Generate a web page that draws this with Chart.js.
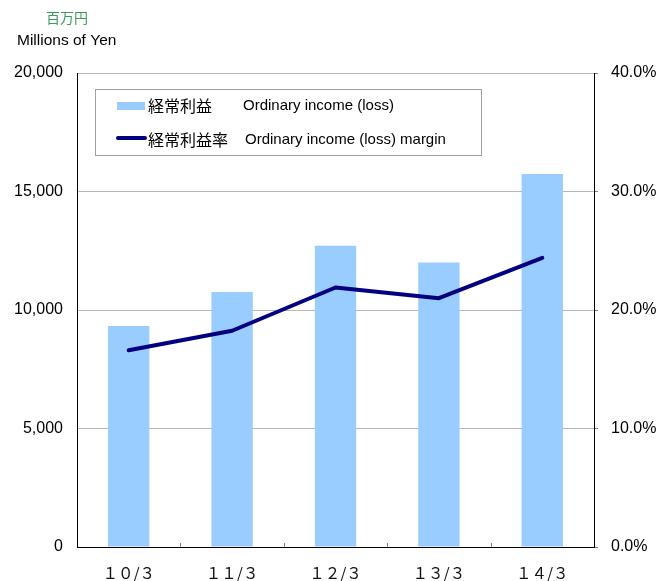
<!DOCTYPE html>
<html>
<head>
<meta charset="utf-8">
<script src="https://cdn.jsdelivr.net/npm/chart.js@4/dist/chart.umd.min.js"></script>
<style>
  html, body { margin: 0; padding: 0; background: #fff; }
  #wrap { width: 660px; height: 581px; }
</style>
</head>
<body>
<div id="wrap"><canvas id="chart" width="660" height="581"></canvas></div>
<script>
// fiscal years (March year-end)
const categories = ['１０/３', '１１/３', '１２/３', '１３/３', '１４/３'];
// ordinary income, millions of yen
const ordinaryIncome = [9330, 10760, 12710, 12000, 15740];
// ordinary income margin, %
const incomeMargin = [16.6, 18.25, 21.9, 21.0, 24.4];
const leftTicks = [0, 5000, 10000, 15000, 20000];
const rightTicks = [0, 10, 20, 30, 40];

const legendNames = [
  ['経常利益', 'Ordinary income (loss)'],
  ['経常利益率', 'Ordinary income (loss) margin']
];

const latin = '"Liberation Sans", Arial, sans-serif';
const cjk = '"Noto Sans CJK JP", sans-serif';

// unit labels, inward category ticks and the boxed legend inside the plot
const decorations = {
  id: 'decorations',
  afterDraw(chart) {
    const ctx = chart.ctx;
    const area = chart.chartArea;
    const xs = chart.scales.x;
    ctx.save();

    // small ticks between categories, pointing up into the plot
    ctx.strokeStyle = '#808080';
    ctx.lineWidth = 1;
    const step = (area.right - area.left) / categories.length;
    for (let i = 1; i < categories.length; i++) {
      const px = Math.round((xs.getPixelForValue(i - 1) + xs.getPixelForValue(i)) / 2) + 0.5;
      ctx.beginPath();
      ctx.moveTo(px, area.bottom);
      ctx.lineTo(px, area.bottom - 4);
      ctx.stroke();
    }

    ctx.textBaseline = 'middle';
    ctx.textAlign = 'left';

    ctx.fillStyle = '#3c9a5f';
    ctx.font = '14px ' + cjk;
    ctx.fillText('百万円', 46, 18);
    ctx.fillStyle = '#000';
    ctx.font = '15.5px ' + latin;
    ctx.fillText('Millions of Yen', 17, 41);

    // legend box
    ctx.fillStyle = '#fff';
    ctx.fillRect(95.5, 89.5, 386, 66);
    ctx.strokeStyle = '#a0a0a0';
    ctx.lineWidth = 1;
    ctx.strokeRect(95.5, 89.5, 386, 66);

    const ds = chart.data.datasets;
    const rows = [106, 140];
    // bar swatch
    ctx.fillStyle = ds[0].backgroundColor;
    ctx.fillRect(117, 102, 28, 8);
    // line swatch
    ctx.strokeStyle = ds[1].borderColor;
    ctx.lineWidth = 4;
    ctx.lineCap = 'round';
    ctx.beginPath();
    ctx.moveTo(118, 138);
    ctx.lineTo(145, 138);
    ctx.stroke();

    ctx.fillStyle = '#000';
    legendNames.forEach((names, i) => {
      ctx.font = '16px ' + cjk;
      ctx.fillText(names[0], 148, rows[i]);
      ctx.font = '15px ' + latin;
      ctx.fillText(names[1], i === 0 ? 243 : 245, rows[i]);
    });
    ctx.restore();
  }
};

new Chart(document.getElementById('chart'), {
  type: 'bar',
  data: {
    labels: categories,
    datasets: [
      {
        type: 'bar',
        label: legendNames[0].join(' '),
        data: ordinaryIncome,
        backgroundColor: '#99ccff',
        borderWidth: 0,
        barPercentage: 0.4,
        categoryPercentage: 1.0,
        yAxisID: 'y',
        order: 2
      },
      {
        type: 'line',
        label: legendNames[1].join(' '),
        data: incomeMargin,
        borderColor: '#000080',
        borderWidth: 4,
        borderCapStyle: 'round',
        borderJoinStyle: 'round',
        pointRadius: 0,
        tension: 0,
        yAxisID: 'y2',
        order: 1
      }
    ]
  },
  options: {
    responsive: false,
    animation: false,
    layout: { padding: { top: 73, left: 0, right: 0, bottom: 0 } },
    plugins: {
      legend: { display: false },
      tooltip: { enabled: false }
    },
    scales: {
      x: {
        afterFit(scale) { scale.height = 34; },
        grid: { display: false },
        border: { color: '#000', width: 1 },
        ticks: {
          color: '#111',
          font: { family: cjk, size: 15.5, lineHeight: 1.1 },
          padding: 10
        }
      },
      y: {
        position: 'left',
        min: 0,
        max: 20000,
        afterFit(scale) { scale.width = 77; },
        afterBuildTicks(scale) { scale.ticks = leftTicks.map(v => ({ value: v })); },
        grid: { color: '#b8b8b8', drawTicks: false },
        border: { color: '#000', width: 1 },
        ticks: {
          color: '#000',
          padding: 14,
          font: { family: latin, size: 16 },
          callback: v => v.toLocaleString('en-US')
        }
      },
      y2: {
        position: 'right',
        min: 0,
        max: 40,
        afterFit(scale) { scale.width = 66; },
        afterBuildTicks(scale) { scale.ticks = rightTicks.map(v => ({ value: v })); },
        grid: { drawOnChartArea: false, drawTicks: true, tickLength: 4, color: '#808080' },
        border: { color: '#000', width: 1 },
        ticks: {
          color: '#000',
          padding: 13,
          font: { family: latin, size: 16 },
          callback: v => v.toFixed(1) + '%'
        }
      }
    }
  },
  plugins: [decorations]
});
</script>
</body>
</html>
